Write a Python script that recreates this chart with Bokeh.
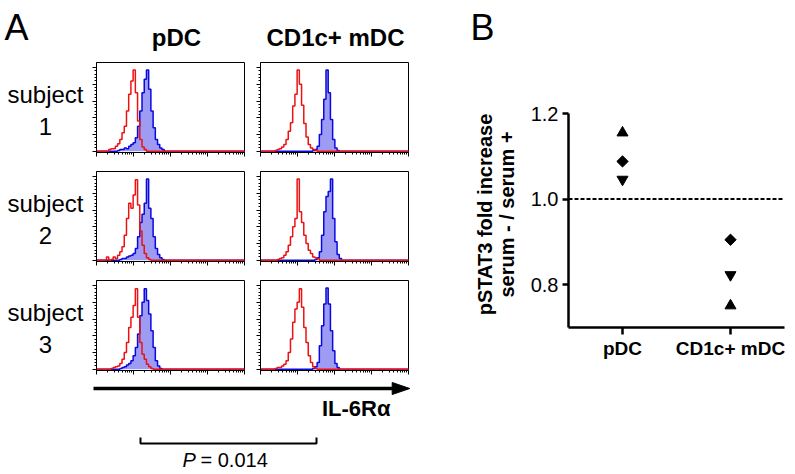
import numpy as np
from bokeh.plotting import figure
from bokeh.layouts import row, column
from bokeh.models import (Range1d, FixedTicker, Span, PrintfTickFormatter, FactorRange)
from bokeh.core.properties import value
from bokeh.embed import file_html
from bokeh.resources import INLINE

FONT = "Liberation Sans"
RED = "#ee1111"
BLUE = "#0a0ae0"
FILL = "#9d9cf2"

# ---------------- Panel A data: histogram channels (% of mode) ----------------
BIN = 0.06          # channel width, decades of fluorescence
N_DECADES = 4

# subject 1
s1_pdc_ctrl_start = 0.36
s1_pdc_ctrl = [2, 3, 3, 6, 9, 14, 22, 30, 48, 68, 84, 97, 70, 36, 14, 5, 2, 0]
s1_pdc_il6r_start = 0.60
s1_pdc_il6r = [1, 2, 2, 4, 3, 6, 8, 10, 16, 30, 48, 70, 86, 97, 74, 48, 28, 14, 8, 4, 2, 0]
s1_mdc_ctrl_start = 0.42
s1_mdc_ctrl = [1, 2, 3, 5, 8, 14, 24, 34, 54, 68, 97, 80, 55, 33, 17, 8, 4, 2, 1]
s1_mdc_il6r_start = 1.44
s1_mdc_il6r = [1, 2, 6, 20, 38, 62, 97, 70, 38, 14, 4, 1]
# subject 2
s2_pdc_ctrl_start = 0.24
s2_pdc_ctrl = [0, 4, 0, 1, 4, 2, 6, 10, 16, 30, 50, 68, 62, 78, 96, 66, 35, 18, 8, 3, 1]
s2_pdc_il6r_start = 0.66
s2_pdc_il6r = [1, 2, 2, 4, 5, 6, 8, 14, 28, 45, 55, 68, 97, 62, 50, 28, 14, 7, 3, 1]
s2_mdc_ctrl_start = 0.48
s2_mdc_ctrl = [1, 2, 3, 6, 10, 18, 28, 40, 50, 97, 58, 45, 30, 20, 12, 8, 4, 3, 2, 0]
s2_mdc_il6r_start = 1.50
s2_mdc_il6r = [1, 3, 10, 30, 58, 76, 82, 97, 50, 22, 7, 2, 0]
# subject 3
s3_pdc_ctrl_start = 0.42
s3_pdc_ctrl = [1, 2, 3, 4, 7, 12, 20, 32, 50, 62, 76, 96, 62, 32, 18, 12, 6, 3, 1]
s3_pdc_il6r_start = 0.66
s3_pdc_il6r = [1, 2, 3, 5, 7, 10, 16, 26, 42, 64, 80, 96, 82, 66, 46, 26, 10, 4, 1]
s3_mdc_ctrl_start = 0.42
s3_mdc_ctrl = [1, 2, 2, 4, 6, 10, 20, 36, 56, 72, 80, 96, 74, 50, 32, 16, 8, 3, 1]
s3_mdc_il6r_start = 1.44
s3_mdc_il6r = [1, 3, 8, 28, 52, 78, 97, 78, 46, 22, 7, 2, 0]

subjects = ["1", "2", "3"]
cell_types = ["pDC", "CD1c+ mDC"]

# ---------------- Panel B data ----------------
triangle_vals = [1.155, 0.751]
diamond_vals = [1.088, 0.905]
inv_triangle_vals = [1.046, 0.823]
y_ticks_b = [0.8, 1.0, 1.2]


def full_hist(start, counts):
    n = int(N_DECADES / BIN) + 2
    arr = np.zeros(n)
    i0 = int(round(start / BIN))
    arr[i0:i0 + len(counts)] = counts
    x = 10 ** (np.arange(n) * BIN)
    return x, arr


def blank_fig(w, h):
    p = figure(width=w, height=h, x_range=Range1d(0, w), y_range=Range1d(h, 0),
               x_axis_location=None, y_axis_location=None, min_border=0, title=None,
               toolbar_location=None, output_backend="svg", outline_line_color=None,
               frame_align=False)
    p.grid.visible = False
    return p


def add_text(p, x, y, text, size, bold=False, italic=False, align="left", angle=0.0):
    # y is the vertical centre of the text
    style = "bold" if bold else ("italic" if italic else "normal")
    p.text(x=[x], y=[y], text=[text], text_font=value(FONT), text_font_size=size,
           text_font_style=style, text_align=align, text_baseline="middle",
           text_color="black", angle=angle)


def hist_fig(ctrl_start, ctrl, stain_start, stain, bt, bb):
    p = figure(width=8 + 148 + 8, height=bt + 90 + bb, x_axis_type="log", title=None,
               x_range=Range1d(1, 10 ** N_DECADES), y_range=Range1d(-1.5, 106),
               min_border_left=8, min_border_right=8, min_border_top=bt, min_border_bottom=bb,
               toolbar_location=None, output_backend="svg", frame_align=False)
    p.grid.visible = False
    p.outline_line_color = "black"
    p.outline_line_width = 1
    xa = p.xaxis[0]
    xa.ticker = FixedTicker(ticks=[10 ** k for k in range(N_DECADES + 1)],
                            minor_ticks=[m * 10 ** k for k in range(N_DECADES) for m in range(2, 10)])
    ya = p.yaxis[0]
    ya.ticker = FixedTicker(ticks=list(range(0, 101, 20)), minor_ticks=list(range(0, 101, 4)))
    for ax in (xa, ya):
        ax.major_label_text_font_size = "1px"
        ax.major_label_text_color = None
        ax.major_label_standoff = 0
        ax.major_tick_out = 4
        ax.major_tick_in = 0
        ax.minor_tick_out = 2
        ax.minor_tick_in = 0
        ax.axis_line_color = "black"
        ax.major_tick_line_color = "black"
        ax.minor_tick_line_color = "black"
    x, ys = full_hist(stain_start, stain)
    p.varea_step(x=x, y1=np.zeros_like(ys), y2=ys, step_mode="center", fill_color=FILL)
    p.step(x, ys, mode="center", line_color=BLUE, line_width=1.5)
    x, yc = full_hist(ctrl_start, ctrl)
    p.step(x, yc, mode="center", line_color=RED, line_width=1.5)
    return p


def label_fig(num, h):
    p = blank_fig(88, h)
    add_text(p, 45, 37.5, "subject", "24px", align="center")
    add_text(p, 45, 69.5, num, "24px", align="center")
    return p


# header
header = blank_fig(416, 56)
add_text(header, 4, 26.5, "A", "36px")
add_text(header, 176, 37, cell_types[0], "24px", bold=True, align="center")
add_text(header, 335, 37, cell_types[1], "24px", bold=True, align="center")

data = [
    (s1_pdc_ctrl_start, s1_pdc_ctrl, s1_pdc_il6r_start, s1_pdc_il6r,
     s1_mdc_ctrl_start, s1_mdc_ctrl, s1_mdc_il6r_start, s1_mdc_il6r),
    (s2_pdc_ctrl_start, s2_pdc_ctrl, s2_pdc_il6r_start, s2_pdc_il6r,
     s2_mdc_ctrl_start, s2_mdc_ctrl, s2_mdc_il6r_start, s2_mdc_il6r),
    (s3_pdc_ctrl_start, s3_pdc_ctrl, s3_pdc_il6r_start, s3_pdc_il6r,
     s3_mdc_ctrl_start, s3_mdc_ctrl, s3_mdc_il6r_start, s3_mdc_il6r),
]
rows = []
for i, d in enumerate(data):
    bt, bb = (6, 13) if i < 2 else (6, 6)
    h = bt + 90 + bb
    rows.append(row(label_fig(subjects[i], h),
                    hist_fig(d[0], d[1], d[2], d[3], bt, bb),
                    hist_fig(d[4], d[5], d[6], d[7], bt, bb)))

# bottom annotation: arrow, axis name, bracket, P value
bottom = blank_fig(416, 96)
bottom.segment(x0=[93], y0=[12], x1=[393], y1=[12], line_color="black", line_width=3.3)
bottom.patch(x=[391.7, 409.3, 391.7], y=[6, 12, 18], color="black")
add_text(bottom, 390, 31.5, "IL-6R\u03b1", "22px", bold=True, align="right")
bottom.line(x=[140, 140, 316, 316], y=[61, 67, 67, 61], line_color="black", line_width=2)
add_text(bottom, 182, 83.5, "P", "20px", italic=True)
add_text(bottom, 200, 83.5, "= 0.014", "20px")

left_col = column(header, *rows, bottom)

# ---------------- Panel B ----------------
labB = blank_fig(100, 472)
add_text(labB, 54, 26.5, "B", "36px")
add_text(labB, 68, 214, "pSTAT3 fold increase", "20px", bold=True, align="center",
         angle=np.pi / 2)
add_text(labB, 90, 214, "serum - / serum +", "20px", bold=True, align="center",
         angle=np.pi / 2)

pb = figure(width=271, height=472, x_range=FactorRange(*cell_types), y_range=Range1d(0.7, 1.2),
            min_border_left=52, min_border_right=3, min_border_top=113, min_border_bottom=145,
            toolbar_location=None, output_backend="svg", title=None, frame_align=False)
pb.grid.visible = False
pb.outline_line_color = None
yb = pb.yaxis[0]
yb.ticker = FixedTicker(ticks=y_ticks_b)
yb.formatter = PrintfTickFormatter(format="%.1f")
yb.major_label_text_font = FONT
yb.major_label_text_font_size = "20px"
yb.major_label_text_color = "black"
yb.major_label_standoff = 4
yb.major_tick_out = 6
yb.major_tick_in = 0
yb.minor_tick_line_color = None
xb = pb.xaxis[0]
xb.major_label_text_font = FONT
xb.major_label_text_font_size = "19px"
xb.major_label_text_font_style = "bold"
xb.major_label_text_color = "black"
xb.major_label_standoff = 3
xb.major_tick_out = 7
xb.major_tick_in = 0
for ax in (xb, yb):
    ax.axis_line_width = 2.5
    ax.major_tick_line_width = 2.5
    ax.axis_line_color = "black"
    ax.major_tick_line_color = "black"

pb.add_layout(Span(location=1.0, dimension="width", line_dash="4 2", line_width=2, line_color="black"))
pb.scatter(x=cell_types, y=triangle_vals, marker="triangle", size=11, color="black")
pb.scatter(x=cell_types, y=diamond_vals, marker="square", angle=np.pi / 4, size=8, color="black")
pb.scatter(x=cell_types, y=inv_triangle_vals, marker="inverted_triangle", size=11, color="black")

layout = row(left_col, labB, pb)
open("out.html", "w").write(file_html(layout, INLINE))
